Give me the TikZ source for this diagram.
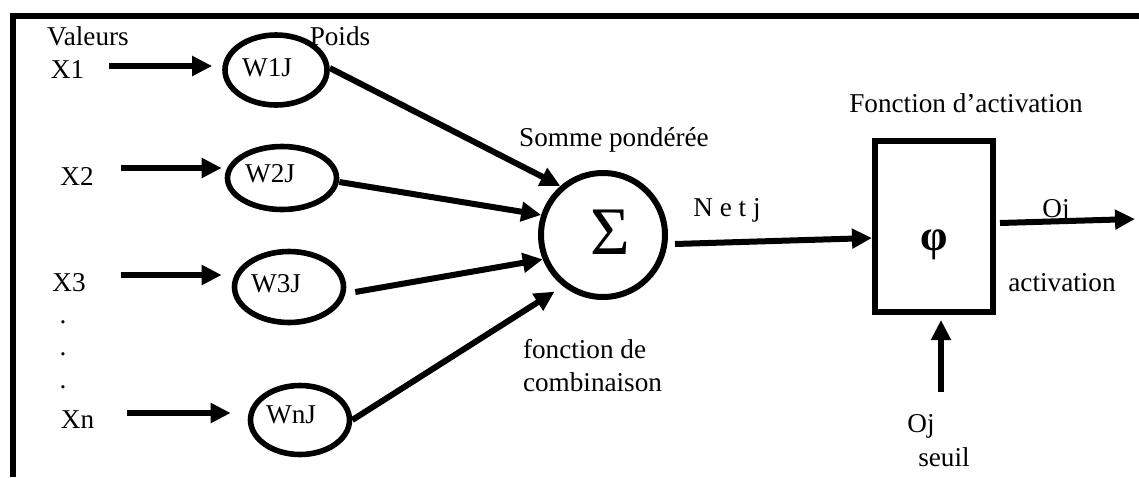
\documentclass[tikz,border=0pt]{standalone}
\usepackage{fontspec}
\setmainfont{Liberation Serif}
\usetikzlibrary{arrows.meta,shapes.geometric}
\begin{document}
\begin{tikzpicture}[x=0.5pt,y=-0.5pt,
  txt/.style={inner sep=0pt, outer sep=0pt, font=\fontsize{13.6}{16.5}\selectfont},
  wt/.style={ellipse, draw, line width=2.8pt, inner sep=0pt},
  arr/.style={line width=3pt, -{Triangle[length=10pt,width=9.5pt]}}]
\useasboundingbox (0,0) rectangle (1139,477);
% frame
\draw[line width=3pt] (12.5,477) -- (12.5,15.5) -- (1139,15.5);
% weight ellipses
\node[wt, minimum width=51pt, minimum height=35pt] (w1) at (276,70) {};
\node[wt, minimum width=54.5pt, minimum height=31.5pt] (w2) at (282,178) {};
\node[wt, minimum width=54.5pt, minimum height=35.5pt] (w3) at (289,287) {};
\node[wt, minimum width=49.5pt, minimum height=34.5pt] (wn) at (300,420) {};
\node[txt] (w1t) at (267,68) {W1J};
\node[txt] (w2t) at (270,174) {W2J};
\node[txt] (w3t) at (276,284) {W3J};
\node[txt] (wnt) at (291,415) {WnJ};
% labels left
\node[txt] (val) at (88,36) {Valeurs};
\node[txt] (poids) at (340,36) {Poids};
\node[txt] (x1) at (67.5,70) {X1};
\node[txt] (x2) at (77,176) {X2};
\node[txt] (x3) at (69,283) {X3};
\node[txt] (xn) at (77.5,420) {Xn};
\node[txt] (d1) at (63,322) {.};
\node[txt] (d2) at (63,354) {.};
\node[txt] (d3) at (63,387) {.};
% input arrows
\draw[arr] ([xshift=12.5pt,yshift=2pt]x1.east) -- ([xshift=-5pt,yshift=2pt]w1.west);
\draw[arr] ([xshift=13.5pt,yshift=4pt]x2.east) -- ([xshift=-1.5pt,yshift=5pt]w2.west);
\draw[arr] ([xshift=17.5pt,yshift=4pt]x3.east) -- ([xshift=-5pt,yshift=6pt]w3.west);
\draw[arr] ([xshift=16.5pt,yshift=3.5pt]xn.east) -- ([xshift=-8.5pt,yshift=3.5pt]wn.west);
% summation
\node[circle, draw, line width=3pt, minimum size=62pt, inner sep=0pt] (sum) at (603,235) {};
\node[inner sep=0pt, font=\fontsize{34}{34}\selectfont] (sig) at (610,232) {Σ};
\node[txt] (somme) at (614,140) {Somme pondérée};
\node[txt, align=left, anchor=west] (comb) at (523,366) {fonction de\\combinaison};
\draw[arr] ([yshift=1pt]w1.east) -- (sum.131);
\draw[arr] ([yshift=-2pt]w2.east) -- (sum.162);
\draw[arr] ([xshift=4.5pt,yshift=-2.5pt]w3.east) -- (sum.202);
\draw[arr, shorten >=5pt] (wn.east) -- (sum.232);
% activation box
\node[draw, line width=3pt, minimum width=59pt, minimum height=85.5pt, inner sep=0pt] (box) at (934,226.5) {};
\node[inner sep=0pt, font=\fontsize{22}{22}\selectfont\bfseries] (phi) at (934,245) {φ};
\node[txt] (fact) at (966,103) {Fonction d’activation};
\node[txt] (netj) at (727,210) {N e t j};
\draw[arr] ([xshift=3.5pt,yshift=-4.5pt]sum.east) -- ([yshift=-5.75pt]box.west);
% output
\coordinate (out) at (1135,219);
\draw[arr] ([xshift=2pt,yshift=1.75pt]box.east) -- (out);
\node[txt] (oj) at (1056,211) {Oj};
\node[txt] (act) at (1062,283) {activation};
% threshold
\coordinate (thr) at (941,392);
\draw[arr, shorten >=2.5pt] (thr) -- (box.south -| thr);
\node[txt] (oj2) at (921,426) {Oj};
\node[txt] (seuil) at (944,457) {seuil};
\end{tikzpicture}
\end{document}
